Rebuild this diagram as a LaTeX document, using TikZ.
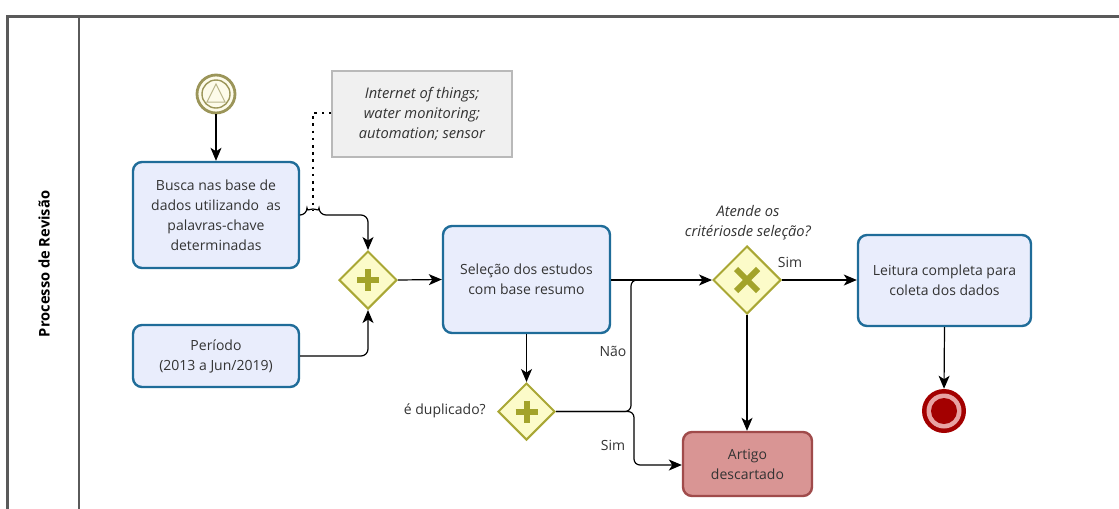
\documentclass[tikz,border=0pt]{standalone}
\usepackage{fontspec}
\setmainfont{Open Sans}
\usetikzlibrary{arrows.meta,shapes.geometric}
\newcommand\pxu{*0.75pt}
\definecolor{taskblue}{HTML}{1F6C99}
\definecolor{taskfill}{HTML}{E9EDFC}
\definecolor{gwline}{HTML}{A9A735}
\definecolor{gwfill}{HTML}{FCFBC9}
\definecolor{gwmark}{HTML}{A3A32A}
\definecolor{startline}{HTML}{9B9559}
\definecolor{startfill}{HTML}{FDFBEA}
\definecolor{endred}{HTML}{A30000}
\definecolor{endpink}{HTML}{E8A3A3}
\definecolor{discfill}{HTML}{D99594}
\definecolor{discline}{HTML}{A04B4B}
\definecolor{txt}{HTML}{333333}
\definecolor{poolline}{HTML}{5A5A5A}
\tikzset{
  taskbox/.style={rectangle, rounded corners=9\pxu, draw=taskblue, line width=2.4\pxu,
    fill=taskfill, align=center, text=txt, font=\fontsize{10.5}{15}\selectfont, inner sep=0pt},
  discbox/.style={taskbox, draw=discline, fill=discfill},
  gateway/.style={diamond, aspect=1, draw=gwline, line width=2\pxu, fill=gwfill, inner sep=0pt},
  note/.style={rectangle, draw=gray!55, fill=gray!12, line width=1.2\pxu, align=center,
    text=txt, font=\fontsize{11}{15}\selectfont\itshape, inner sep=0pt},
  lbl/.style={text=txt, font=\fontsize{10.5}{15}\selectfont, inner sep=0pt, align=center},
  flow/.style={draw=black, line width=1.2\pxu, -{Stealth[length=13\pxu, width=11\pxu, inset=3.5\pxu]}},
  flowline/.style={draw=black, line width=1.2\pxu},
  assoc/.style={draw=black, line width=2.6\pxu, dash pattern=on 2.6\pxu off 4.6\pxu},
  gwsign/.style={draw=gwmark, line width=6\pxu},
}
\begin{document}
\begin{tikzpicture}[x=0.75pt, y=-0.75pt]
\useasboundingbox (0,0) rectangle (1119,508);
\clip (0,0) rectangle (1119,508);
% pool and lane
\draw[poolline, line width=2.2\pxu] (7.5,520) -- (7.5,16.5) -- (1130,16.5);
\draw[poolline, line width=2.2\pxu] (79,16.5) -- (79,520);
\node[rotate=90, text=black, font=\fontsize{11}{12}\selectfont\bfseries, inner sep=0pt] (lane) at (44,264) {Processo de Revisão};

% start event
\node[circle, draw=startline, line width=2.8\pxu, fill=startfill, minimum size=38\pxu, inner sep=0pt] (start) at (216,94) {};
\draw[startline, line width=1.4\pxu] (start.center) circle (14\pxu);
\draw[startline!70, line width=1\pxu] (216,84) -- (207,102) -- (225,102) -- cycle;

% tasks
\node[taskbox, minimum width=166\pxu, minimum height=106\pxu] (busca) at (216,215)
  {Busca nas base de\\dados utilizando\ \ as\\palavras-chave\\determinadas};
\node[taskbox, minimum width=166\pxu, minimum height=62\pxu] (periodo) at (216,356)
  {Período\\(2013 a Jun/2019)};
\node[taskbox, minimum width=167\pxu, minimum height=107\pxu] (selecao) at (526.5,279.5)
  {Seleção dos estudos\\com base resumo};
\node[taskbox, minimum width=173\pxu, minimum height=91\pxu] (leitura) at (944.5,280.5)
  {Leitura completa para\\coleta dos dados};
\node[discbox, minimum width=129\pxu, minimum height=64\pxu] (artigo) at (747.5,464)
  {Artigo\\descartado};

% annotation
\node[note, minimum width=180\pxu, minimum height=86\pxu] (nota) at (422,114)
  {Internet of things;\\water monitoring;\\automation; sensor};

% gateways
\node[gateway, minimum width=58\pxu, minimum height=58\pxu] (g1) at (368,280) {};
\draw[gwsign] (357,280) -- (379,280) (368,269) -- (368,291);
\node[gateway, minimum width=57\pxu, minimum height=57\pxu] (g2) at (526.5,411.5) {};
\draw[gwsign] (515.5,411.5) -- (537.5,411.5) (526.5,400.5) -- (526.5,422.5);
\node[gateway, minimum width=68\pxu, minimum height=68\pxu] (gx) at (747,280) {};
\draw[gwsign] (736,269) -- (758,291) (736,291) -- (758,269);

% end event
\node[circle, fill=endred, minimum size=44\pxu, inner sep=0pt] (fim) at (944,411) {};
\fill[endpink] (fim.center) circle (17.5\pxu);
\fill[endred] (fim.center) circle (13\pxu);

% labels
\node[lbl, anchor=east] (dup) at (486,411) {é duplicado?};
\node[lbl, font=\fontsize{11}{15}\selectfont\itshape] (crit) at (748,223) {Atende os\\critériosde seleção?};
\node[lbl] (nao) at (613,351) {Não};
\node[lbl] (sim1) at (613,445) {Sim};
\node[lbl] (sim2) at (790,262) {Sim};

% flows
\draw[flow] (start) -- (busca);
\draw[flow, rounded corners=7\pxu] (busca.east |- 0,215) -- (307,215) arc[start angle=180, end angle=0, radius=6\pxu] -- (368,215) -- (g1.north);
\draw[flow, rounded corners=7\pxu] (periodo.east) -- (368,356) -- (g1.south);
\draw[flow] (g1.east) -- (selecao.west);
\draw[flow] (selecao.south) -- (g2.north);
\draw[flow] (selecao.east |- gx.west) -- (gx.west);
\draw[flowline, rounded corners=6\pxu] (g2.east) -- (631,411.5) -- (631,280) -- (680,280);
\draw[flow, rounded corners=6\pxu] (g2.east) -- (634,411.5) -- (634,465) -- (artigo.west |- 0,465);
\draw[flow] (gx.east) -- (leitura.west |- gx.east);
\draw[flow] (gx.south) -- (artigo.north -| gx.south);
\draw[flow] (leitura.south) -- (fim.north);

% association
\draw[assoc] (nota.west |- 0,113) -- (313,113) -- (313,211);
\end{tikzpicture}
\end{document}
